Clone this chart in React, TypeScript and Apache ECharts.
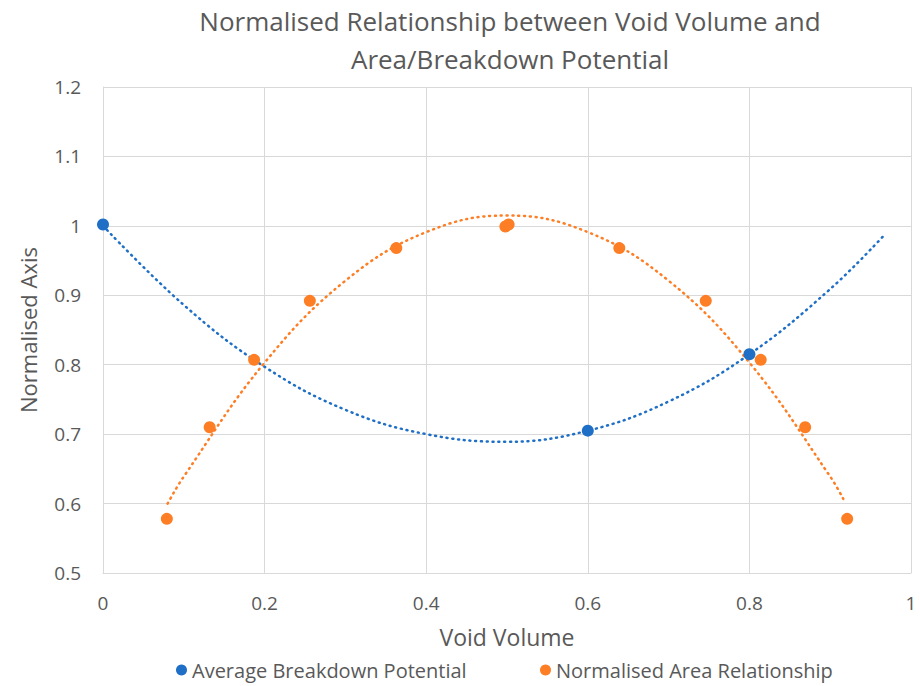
import React, { useEffect, useRef } from "react";
import * as echarts from "echarts";

const TITLE_LINES = ["Normalised Relationship between Void Volume and", "Area/Breakdown Potential"];
const X_NAME = "Void Volume";
const Y_NAME = "Normalised Axis";
const SERIES_NAMES = ["Average Breakdown Potential", "Normalised Area Relationship"];

// Average Breakdown Potential (blue points)
const breakdownX = [0, 0.6, 0.8];
const breakdownY = [1.002, 0.705, 0.815];

// Normalised Area Relationship (orange points)
const areaX = [0.079, 0.132, 0.187, 0.256, 0.363, 0.498, 0.502, 0.639, 0.746, 0.814, 0.869, 0.921];
const areaY = [0.578, 0.71, 0.807, 0.892, 0.968, 0.999, 1.002, 0.968, 0.892, 0.807, 0.71, 0.578];

// Dotted trendlines
const breakdownTrendX = [0, 0.1, 0.2, 0.3, 0.4, 0.5, 0.6, 0.7, 0.8, 0.9, 0.968];
const breakdownTrendY = [1.0, 0.886, 0.797, 0.735, 0.7, 0.689, 0.705, 0.747, 0.815, 0.909, 0.988];
const areaTrendX = [0.08, 0.1, 0.2, 0.3, 0.4, 0.5, 0.6, 0.7, 0.8, 0.9, 0.917];
const areaTrendY = [0.6, 0.639, 0.803, 0.921, 0.991, 1.015, 0.991, 0.921, 0.803, 0.639, 0.605];

const BLUE = "#1f6fc6";
const ORANGE = "#fd7e24";
const TEXT = "#595959";
const GRID = "#d9d9d9";
const FONT = "'Open Sans', 'Noto Sans', sans-serif";

const zip = (xs: number[], ys: number[]) => xs.map((x, i) => [x, ys[i]]);
const fmt = (v: number) => String(parseFloat(v.toFixed(1)));

export default function App() {
  const ref = useRef<HTMLDivElement>(null);
  useEffect(() => {
    if (!ref.current) return;
    const chart = echarts.init(ref.current, undefined, { renderer: "svg" });
    const dotted = { type: [1, 4.8] as number[], width: 2.5, cap: "round" as const };
    const legendText = { fontFamily: FONT, fontSize: 20, color: TEXT };
    chart.setOption({
      animation: false,
      backgroundColor: "#ffffff",
      textStyle: { fontFamily: FONT, color: TEXT },
      title: {
        text: TITLE_LINES.join("\n"),
        left: 505,
        top: -3,
        textAlign: "center",
        textStyle: { fontFamily: FONT, fontSize: 26, fontWeight: "normal", color: TEXT, lineHeight: 38 },
      },
      grid: { left: 103, right: 9, top: 87, bottom: 113, containLabel: false },
      xAxis: {
        type: "value",
        min: 0,
        max: 1,
        interval: 0.2,
        name: X_NAME,
        nameLocation: "middle",
        nameGap: 52,
        nameTextStyle: { fontFamily: FONT, fontSize: 23, color: TEXT },
        axisLine: { show: true, lineStyle: { color: GRID, width: 1 } },
        axisTick: { show: false },
        axisLabel: { fontFamily: FONT, fontSize: 19, color: TEXT, margin: 20, formatter: fmt },
        splitLine: { show: true, lineStyle: { color: GRID, width: 1 } },
      },
      yAxis: {
        type: "value",
        min: 0.5,
        max: 1.2,
        interval: 0.1,
        name: Y_NAME,
        nameLocation: "middle",
        nameGap: 64,
        nameTextStyle: { fontFamily: FONT, fontSize: 22, color: TEXT },
        axisLine: { show: true, lineStyle: { color: GRID, width: 1 } },
        axisTick: { show: false },
        axisLabel: { fontFamily: FONT, fontSize: 19, color: TEXT, margin: 22, formatter: fmt },
        splitLine: { show: true, lineStyle: { color: GRID, width: 1 } },
      },
      legend: [
        {
          data: [SERIES_NAMES[0]],
          left: 171,
          top: 655,
          icon: "circle",
          itemWidth: 11,
          itemHeight: 11,
          textStyle: legendText,
        },
        {
          data: [SERIES_NAMES[1]],
          left: 535,
          top: 655,
          icon: "circle",
          itemWidth: 11,
          itemHeight: 11,
          textStyle: legendText,
        },
      ],
      series: [
        {
          name: "breakdownTrend",
          type: "line",
          data: zip(breakdownTrendX, breakdownTrendY),
          smooth: 0.4,
          symbol: "none",
          lineStyle: { ...dotted, color: BLUE },
          z: 1,
          silent: true,
        },
        {
          name: "areaTrend",
          type: "line",
          data: zip(areaTrendX, areaTrendY),
          smooth: 0.4,
          symbol: "none",
          lineStyle: { ...dotted, color: ORANGE },
          z: 1,
          silent: true,
        },
        {
          name: SERIES_NAMES[0],
          type: "scatter",
          data: zip(breakdownX, breakdownY),
          symbolSize: 12,
          itemStyle: { color: BLUE, opacity: 1 },
          z: 3,
        },
        {
          name: SERIES_NAMES[1],
          type: "scatter",
          data: zip(areaX, areaY),
          symbolSize: 12,
          itemStyle: { color: ORANGE, opacity: 1 },
          z: 4,
        },
      ],
    });
    return () => chart.dispose();
  }, []);
  return <div ref={ref} style={{ width: 920, height: 686, position: "absolute", left: 0, top: 0 }} />;
}
